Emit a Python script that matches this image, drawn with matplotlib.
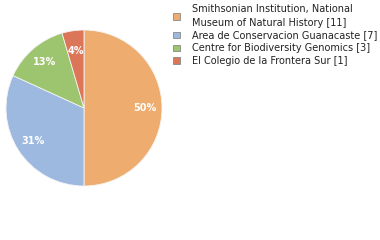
import matplotlib
matplotlib.use("Agg")
import matplotlib.pyplot as plt
from matplotlib.patches import Patch
import numpy as np

labels = ["Smithsonian Institution, National\nMuseum of Natural History [11]",
          "Area de Conservacion Guanacaste [7]",
          "Centre for Biodiversity Genomics [3]",
          "El Colegio de la Frontera Sur [1]"]
counts = [11, 7, 3, 1]
pct_labels = ["50%", "31%", "13%", "4%"]
colors = ["#EFAC6F", "#9DB9DF", "#9DC46F", "#DC7659"]

fig = plt.figure(figsize=(3.8, 2.4), dpi=100)
ax = fig.add_axes([6/380, 1-186/240, 156/380, 156/240])
wedges, _ = ax.pie(counts, colors=colors, startangle=90, counterclock=False,
                   wedgeprops=dict(linewidth=0.6, edgecolor="#f4f4f4"))
total = sum(counts)
ang = 90.0
for w, c, t in zip(wedges, counts, pct_labels):
    span = 360.0 * c / total
    mid = np.deg2rad(ang - span / 2)
    r = 0.78 if c > 2 else 0.74
    ax.text(r * np.cos(mid), r * np.sin(mid), t, ha="center", va="center",
            color="white", fontsize=7, fontweight="semibold", family="DejaVu Sans")
    ang -= span
ax.set_xlim(-1, 1)
ax.set_ylim(-1, 1)
ax.set_aspect("equal")
ax.axis("off")

handles = [Patch(facecolor=c, edgecolor="#888888", linewidth=0.6) for c in colors]
leg = fig.legend(handles, labels, loc="upper left", bbox_to_anchor=(171/380, 1 - 2/240),
                 frameon=False, fontsize=7, handlelength=0.7, handleheight=0.7,
                 handletextpad=1.27, labelspacing=0.3, borderaxespad=0, borderpad=0.2)
for t in leg.get_texts():
    t.set_linespacing(1.45)
    t.set_color("#222222")
fig.savefig("out.png", dpi=100)
